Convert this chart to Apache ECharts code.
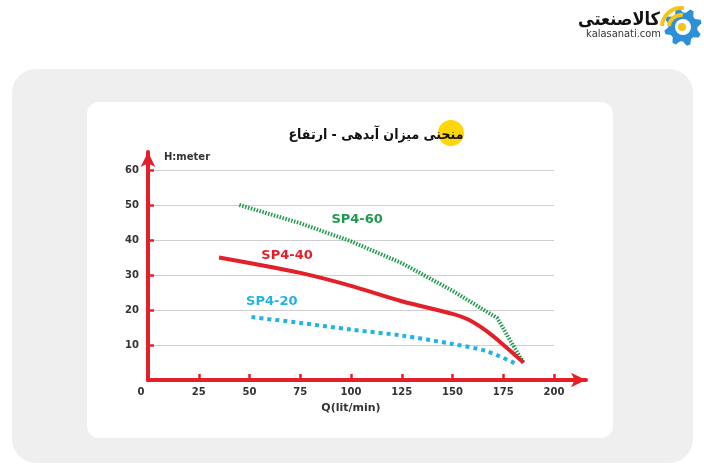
<!DOCTYPE html>
<html>
<head>
<meta charset="utf-8">
<script src="https://cdn.jsdelivr.net/npm/echarts@6/dist/echarts.min.js"></script>
<style>html,body{margin:0;padding:0;background:#fff}#c{width:704px;height:476px}</style>
</head>
<body>
<div id="c"></div>
<script>
// ---- data ----
const titleText = 'منحنی میزان آبدهی - ارتفاع';
const xName = 'Q(lit/min)';
const yName = 'H:meter';
const seriesNames = ['SP4-60', 'SP4-40', 'SP4-20'];
const xTicks = [0, 25, 50, 75, 100, 125, 150, 175, 200];
const yTicks = [0, 10, 20, 30, 40, 50, 60];

const sp60Q = [45, 75, 100, 125, 150, 172, 185];
const sp60H = [50, 44.8, 39.6, 33.4, 25.5, 17.7, 4.8];

const sp40Q = [35, 75, 100, 125, 150, 158, 167, 175, 185];
const sp40H = [35, 30.6, 26.9, 22.5, 18.9, 17.2, 13.9, 10.1, 5.0];

const sp20Q = [51, 75, 100, 125, 150, 167, 181];
const sp20H = [18, 16.3, 14.4, 12.7, 10.3, 8.2, 4.7];

// label anchors (data coordinates)
const labelAt = [[103, 45.8], [68.5, 35.6], [61, 22.5]];

const colors = ['#1f9a4c', '#e3202a', '#22b3e3'];

function pairs(q, h) { return q.map((v, i) => [v, h[i]]); }

// gear outline for logo
function gearPoints(cx, cy, ro, ri, teeth) {
  const pts = [];
  const n = teeth * 4;
  for (let i = 0; i < n; i++) {
    const a = (i / n) * Math.PI * 2 + Math.PI / 8;
    const r = (i % 4 < 2) ? ro : ri;
    pts.push([cx + r * Math.cos(a), cy + r * Math.sin(a)]);
  }
  return pts;
}

const chart = echarts.init(document.getElementById('c'), null, { renderer: 'canvas' });

function mkLabel(i) {
  return {
    symbol: 'circle', symbolSize: 1, silent: true,
    itemStyle: { color: 'transparent' },
    label: { show: true, position: 'inside', formatter: seriesNames[i],
      color: colors[i], fontFamily: 'DejaVu Sans', fontWeight: 'bold', fontSize: 13 },
    data: [{ coord: labelAt[i] }]
  };
}

const option = {
  backgroundColor: '#ffffff',
  animation: false,
  title: [
    { text: titleText, left: 371, top: 123, textAlign: 'center',
      textStyle: { fontFamily: 'DejaVu Sans Condensed, DejaVu Sans', fontWeight: 'bold', fontSize: 14, color: '#111' } },
    { text: yName, left: 159, top: 147,
      textStyle: { fontFamily: 'DejaVu Sans', fontWeight: 'bold', fontSize: 10, color: '#333' } }
  ],
  graphic: [
    { type: 'rect', z: -20, silent: true, shape: { x: 12, y: 69, width: 681, height: 394, r: 24 }, style: { fill: '#efefef' } },
    { type: 'rect', z: -19, silent: true, shape: { x: 87, y: 102, width: 526, height: 336, r: 12 }, style: { fill: '#ffffff' } },
    { type: 'circle', z: -5, silent: true, shape: { cx: 451, cy: 133, r: 13 }, style: { fill: '#ffd60a' } },
    // logo
    { type: 'polygon', silent: true, shape: { points: gearPoints(683, 27, 19, 14.5, 8) }, style: { fill: '#2d8fd5' } },
    { type: 'circle', silent: true, shape: { cx: 683, cy: 27, r: 8 }, style: { fill: '#ffffff' } },
    { type: 'arc', silent: true, shape: { cx: 681, cy: 27, r: 12, startAngle: Math.PI * 1.02, endAngle: Math.PI * 1.55 }, style: { stroke: '#f6c21c', lineWidth: 4, fill: null } },
    { type: 'arc', silent: true, shape: { cx: 681, cy: 27, r: 19, startAngle: Math.PI * 1.02, endAngle: Math.PI * 1.55 }, style: { stroke: '#f6c21c', lineWidth: 4, fill: null } },
    { type: 'circle', silent: true, shape: { cx: 682, cy: 27, r: 4 }, style: { fill: '#f6c21c' } },
    { type: 'text', silent: true, style: { text: 'کالاصنعتی', x: 660, y: 20, align: 'right', verticalAlign: 'middle',
        font: 'bold 18px "DejaVu Sans Condensed", "DejaVu Sans"', fill: '#111' } },
    { type: 'text', silent: true, style: { text: 'kalasanati.com', x: 661, y: 34, align: 'right', verticalAlign: 'middle',
        font: '11px "DejaVu Sans Condensed", "DejaVu Sans"', fill: '#333' } }
  ],
  grid: [
    { left: 148, top: 170, width: 406, height: 210 },
    { left: 148, top: 152, width: 438, height: 228 }
  ],
  xAxis: [
    { type: 'value', gridIndex: 0, min: xTicks[0], max: xTicks[xTicks.length - 1], interval: 25,
      name: xName, nameLocation: 'middle', nameGap: 23,
      nameTextStyle: { fontFamily: 'DejaVu Sans', fontWeight: 'bold', fontSize: 11, color: '#333' },
      axisLine: { show: false },
      axisTick: { show: true, inside: true, length: 6, lineStyle: { color: '#e3202a', width: 2.5 } },
      splitLine: { show: false },
      axisLabel: { margin: 7, fontFamily: 'DejaVu Sans', fontWeight: 'bold', fontSize: 10, color: '#333',
        formatter: v => v === 0 ? '{z|0}' : String(v),
        rich: { z: { padding: [0, 14, 0, 0], fontFamily: 'DejaVu Sans', fontWeight: 'bold', fontSize: 10, color: '#333' } } } },
    { type: 'value', gridIndex: 1, min: 0, max: 1,
      axisLine: { show: true, symbol: ['none', 'arrow'], symbolSize: [11, 15], lineStyle: { color: '#e3202a', width: 4 } },
      axisTick: { show: false }, axisLabel: { show: false }, splitLine: { show: false } }
  ],
  yAxis: [
    { type: 'value', gridIndex: 0, min: yTicks[0], max: yTicks[yTicks.length - 1], interval: 10,
      axisLine: { show: false },
      axisTick: { show: true, inside: true, length: 6, lineStyle: { color: '#e3202a', width: 2.5 } },
      splitLine: { show: true, lineStyle: { color: '#cfcfcf', width: 1 } },
      axisLabel: { margin: 9, showMinLabel: false, fontFamily: 'DejaVu Sans', fontWeight: 'bold', fontSize: 10, color: '#333' } },
    { type: 'value', gridIndex: 1, min: 0, max: 1,
      axisLine: { show: true, symbol: ['none', 'arrow'], symbolSize: [11, 15], lineStyle: { color: '#e3202a', width: 4 } },
      axisTick: { show: false }, axisLabel: { show: false }, splitLine: { show: false } }
  ],
  series: [
    { name: seriesNames[0], type: 'line', xAxisIndex: 0, yAxisIndex: 0, data: pairs(sp60Q, sp60H),
      showSymbol: false, smooth: false,
      lineStyle: { color: colors[0], width: 4, type: [1.5, 1.5], cap: 'butt' },
      markPoint: mkLabel(0) },
    { name: seriesNames[1], type: 'line', xAxisIndex: 0, yAxisIndex: 0, data: pairs(sp40Q, sp40H),
      showSymbol: false, smooth: 0.3,
      lineStyle: { color: colors[1], width: 4 },
      markPoint: mkLabel(1) },
    { name: seriesNames[2], type: 'line', xAxisIndex: 0, yAxisIndex: 0, data: pairs(sp20Q, sp20H),
      showSymbol: false, smooth: 0.3,
      lineStyle: { color: colors[2], width: 4, type: [4, 4], cap: 'butt' },
      markPoint: mkLabel(2) }
  ]
};
chart.setOption(option);
</script>
</body>
</html>
